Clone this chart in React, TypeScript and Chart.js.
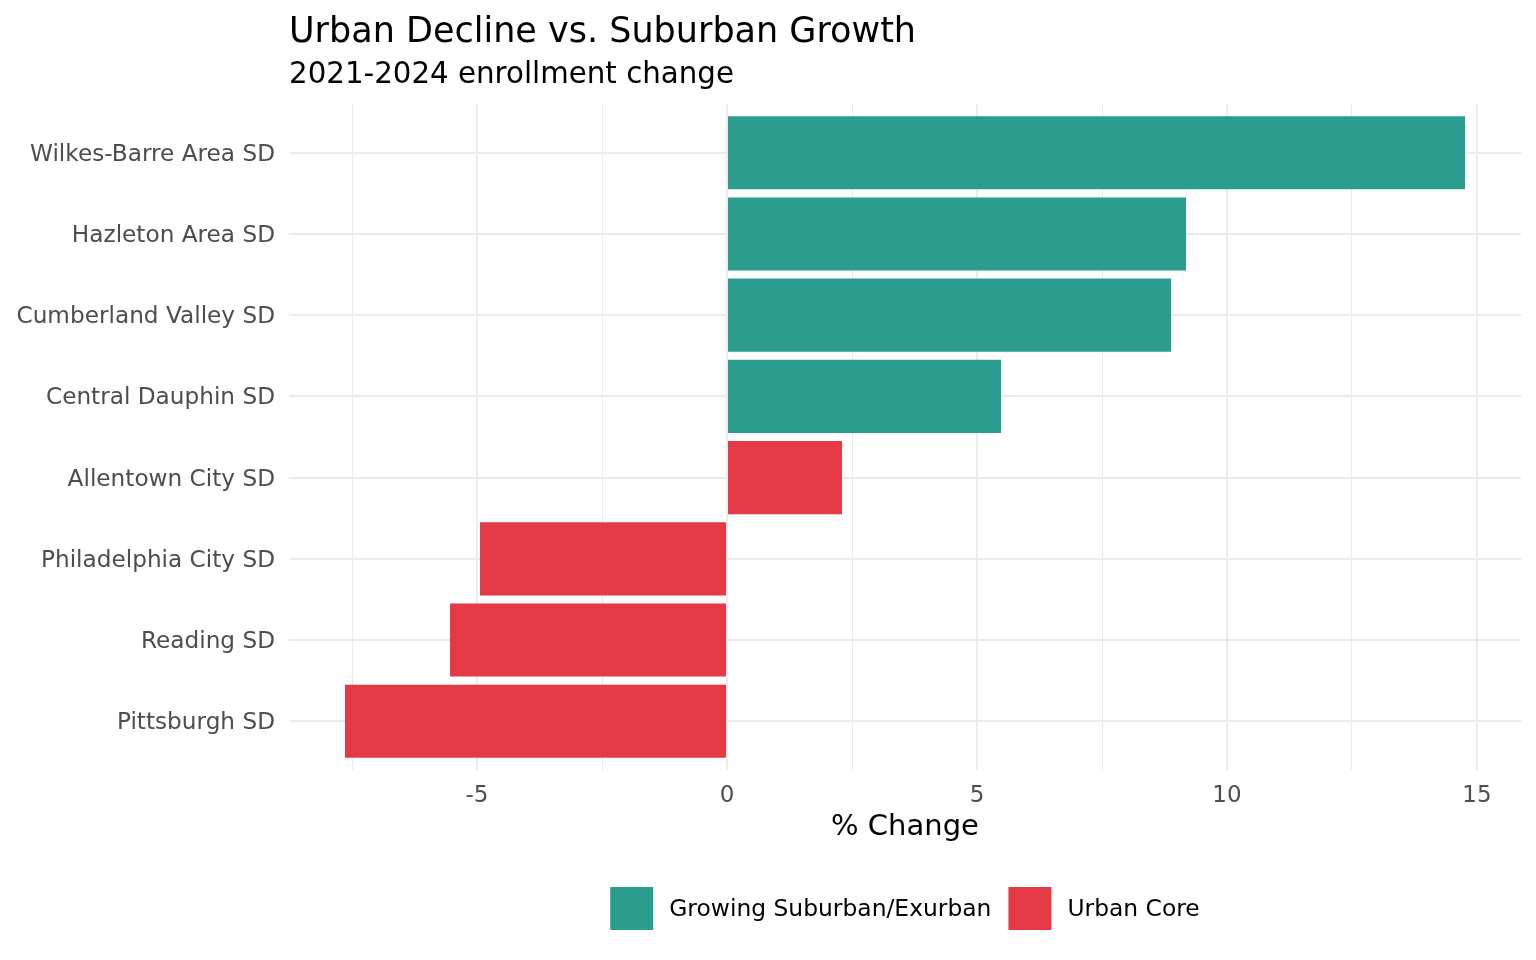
import { useEffect, useRef } from 'react';
import { Chart, registerables } from 'chart.js';

Chart.register(...registerables);

const districts = [
  'Wilkes-Barre Area SD',
  'Hazleton Area SD',
  'Cumberland Valley SD',
  'Central Dauphin SD',
  'Allentown City SD',
  'Philadelphia City SD',
  'Reading SD',
  'Pittsburgh SD',
];
const pctChange = [14.76, 9.18, 8.88, 5.48, 2.3, -4.94, -5.54, -7.64];
const districtGroup = [
  'Growing Suburban/Exurban',
  'Growing Suburban/Exurban',
  'Growing Suburban/Exurban',
  'Growing Suburban/Exurban',
  'Urban Core',
  'Urban Core',
  'Urban Core',
  'Urban Core',
];
const groupNames = ['Growing Suburban/Exurban', 'Urban Core'];
const groupColors = ['#2a9d8f', '#e63946'];
const xGridTicks = [-7.5, -5, -2.5, 0, 2.5, 5, 7.5, 10, 12.5, 15];
const xLabelTicks = [-5, 0, 5, 10, 15];
const titleText = 'Urban Decline vs. Suburban Growth';
const subtitleText = '2021-2024 enrollment change';
const xAxisTitle = '% Change';

const FONT = '"DejaVu Sans", Verdana, sans-serif';

const annotationsPlugin = {
  id: 'annotations',
  afterDraw(chart: any) {
    const { ctx, chartArea } = chart;
    ctx.save();
    ctx.fillStyle = '#000000';
    ctx.textAlign = 'left';
    ctx.textBaseline = 'alphabetic';
    ctx.font = `35px ${FONT}`;
    ctx.fillText(titleText, chartArea.left, 42);
    ctx.font = `29.3px ${FONT}`;
    ctx.fillText(subtitleText, chartArea.left, 83);

    const cx = (chartArea.left + chartArea.right) / 2;
    ctx.textAlign = 'center';
    ctx.font = `29px ${FONT}`;
    ctx.fillText(xAxisTitle, cx, 835);

    // legend
    ctx.font = `23.4px ${FONT}`;
    const box = 43;
    const gapText = 16;
    const gapItem = 17;
    const widths = groupNames.map((n) => ctx.measureText(n).width);
    let total = 0;
    widths.forEach((w, i) => {
      total += box + gapText + w + (i < widths.length - 1 ? gapItem : 0);
    });
    let x = cx - total / 2;
    const top = 887;
    ctx.textAlign = 'left';
    ctx.textBaseline = 'middle';
    groupNames.forEach((n, i) => {
      ctx.fillStyle = groupColors[i];
      ctx.fillRect(x, top, box, box);
      x += box + gapText;
      ctx.fillStyle = '#000000';
      ctx.fillText(n, x, top + box / 2 + 1);
      x += widths[i] + gapItem;
    });
    ctx.restore();
  },
};

export default function App() {
  const canvasRef = useRef<HTMLCanvasElement | null>(null);

  useEffect(() => {
    if (!canvasRef.current) return;
    const datasets = groupNames.map((g, gi) => ({
      label: g,
      backgroundColor: groupColors[gi],
      borderWidth: 0,
      grouped: false,
      barPercentage: 0.9,
      categoryPercentage: 1,
      data: districts
        .map((_, i) => ({ x: pctChange[i], y: i, g: districtGroup[i] }))
        .filter((p) => p.g === g)
        .map((p) => ({ x: p.x, y: p.y })),
    }));

    const chart = new Chart(canvasRef.current, {
      type: 'bar',
      data: { datasets } as any,
      options: {
        indexAxis: 'y',
        animation: false,
        responsive: true,
        maintainAspectRatio: false,
        layout: { padding: { top: 104, right: 15, bottom: 0, left: 0 } },
        plugins: {
          legend: { display: false },
          title: { display: false },
          tooltip: { enabled: false },
        },
        scales: {
          x: {
            type: 'linear',
            min: -8.76,
            max: 15.88,
            afterBuildTicks: (s: any) => {
              s.ticks = xGridTicks.map((v) => ({ value: v }));
            },
            afterFit: (s: any) => {
              s.height = 190;
            },
            ticks: {
              autoSkip: false,
              maxRotation: 0,
              padding: 12,
              color: '#4d4d4d',
              font: { family: FONT, size: 23 },
              callback: (v: any) => (xLabelTicks.includes(Number(v)) ? String(v) : ''),
            },
            grid: {
              color: '#ebebeb',
              lineWidth: (c: any) => (xLabelTicks.includes(c.tick?.value) ? 2 : 1),
              drawTicks: false,
            },
            border: { display: false },
          },
          y: {
            type: 'linear',
            reverse: true,
            offset: false,
            min: -0.6,
            max: 7.6,
            afterBuildTicks: (s: any) => {
              s.ticks = districts.map((_, i) => ({ value: i }));
            },
            afterFit: (s: any) => {
              s.width = 289;
            },
            ticks: {
              autoSkip: false,
              padding: 14,
              labelOffset: 2,
              color: '#4d4d4d',
              font: { family: FONT, size: 23.2 },
              callback: (v: any) => districts[Number(v)] ?? '',
            },
            grid: {
              color: '#ebebeb',
              lineWidth: 2,
              drawTicks: false,
              offset: false,
            },
            border: { display: false },
          },
        },
      } as any,
      plugins: [annotationsPlugin],
    });
    return () => chart.destroy();
  }, []);

  return (
    <div style={{ position: 'absolute', left: 0, top: 0, width: 1536, height: 960, background: '#ffffff' }}>
      <canvas ref={canvasRef} />
    </div>
  );
}
